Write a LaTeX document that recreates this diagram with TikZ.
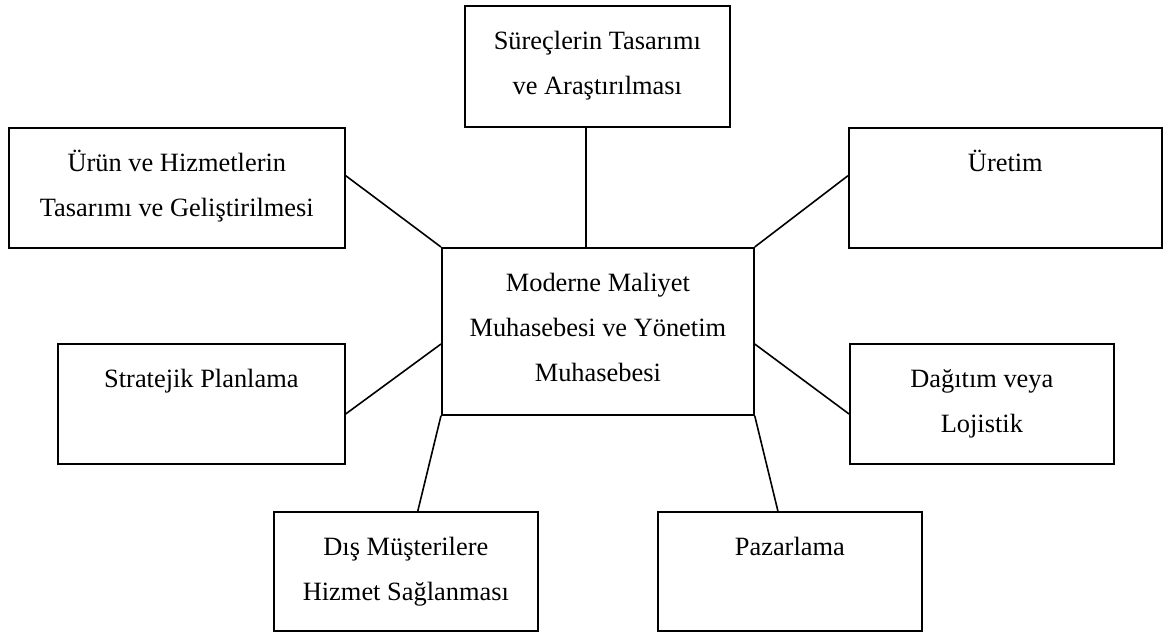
\documentclass[tikz,border=0pt]{standalone}
\usepackage{fontspec}
\setmainfont{Liberation Serif}
\usetikzlibrary{calc}

\tikzset{
  box/.style={draw, line width=1.7pt, inner sep=0pt, anchor=north west},
  link/.style={line width=1.6pt},
  lbl/.style={anchor=base, inner sep=0pt, font=\fontsize{26.4}{45}\selectfont},
}
% stacked, centred lines whose baseline is that of the first line
\newcommand{\stack}[1]{\begin{tabular}[t]{@{}c@{}}#1\end{tabular}}

\begin{document}
\begin{tikzpicture}[x=1pt, y=-1pt]
  \useasboundingbox (0,0) rectangle (1169,632);

  % boxes
  \node[box, minimum width=265, minimum height=121] (proc)  at (464,5)   {};
  \node[box, minimum width=336, minimum height=120] (prod)  at (8,127)   {};
  \node[box, minimum width=313, minimum height=120] (uret)  at (848,127) {};
  \node[box, minimum width=312, minimum height=167] (cent)  at (441,247) {};
  \node[box, minimum width=287, minimum height=120] (strat) at (57,343)  {};
  \node[box, minimum width=264, minimum height=120] (dagit) at (849,343) {};
  \node[box, minimum width=264, minimum height=119] (dis)   at (273,511) {};
  \node[box, minimum width=264, minimum height=119] (paz)   at (657,511) {};

  % labels
  \node[lbl] (proc-t)  at ($(proc.north)+(0,44)$)  {\stack{Süreçlerin Tasarımı\\ve Araştırılması}};
  \node[lbl] (prod-t)  at ($(prod.north)+(0,44)$)  {\stack{Ürün ve Hizmetlerin\\Tasarımı ve Geliştirilmesi}};
  \node[lbl] (uret-t)  at ($(uret.north)+(0,44)$)  {Üretim};
  \node[lbl] (cent-t)  at ($(cent.north)+(0,44)$)  {\stack{Moderne Maliyet\\Muhasebesi ve Yönetim\\Muhasebesi}};
  \node[lbl] (strat-t) at ($(strat.north)+(0,44)$) {Stratejik Planlama};
  \node[lbl] (dagit-t) at ($(dagit.north)+(0,44)$) {\stack{Dağıtım veya\\Lojistik}};
  \node[lbl] (dis-t)   at ($(dis.north)+(0,44)$)   {\stack{Dış Müşterilere\\Hizmet Sağlanması}};
  \node[lbl] (paz-t)   at ($(paz.north)+(0,44)$)   {Pazarlama};

  % connectors
  \coordinate (procfoot) at ($(proc.south west)!0.457!(proc.south east)$);
  \draw[link] (procfoot) -- (procfoot |- cent.north);
  \draw[link] ($(prod.north east)!0.4!(prod.south east)$) -- (cent.north west);
  \draw[link] (cent.north east) -- ($(uret.north west)!0.4!(uret.south west)$);
  \draw[link] ($(cent.north west)!0.575!(cent.south west)$) -- ($(strat.north east)!0.583!(strat.south east)$);
  \draw[link] ($(cent.north east)!0.575!(cent.south east)$) -- ($(dagit.north west)!0.583!(dagit.south west)$);
  \draw[link] (cent.south west) -- ($(dis.north west)!0.545!(dis.north east)$);
  \draw[link] (cent.south east) -- ($(paz.north west)!0.455!(paz.north east)$);
\end{tikzpicture}
\end{document}
